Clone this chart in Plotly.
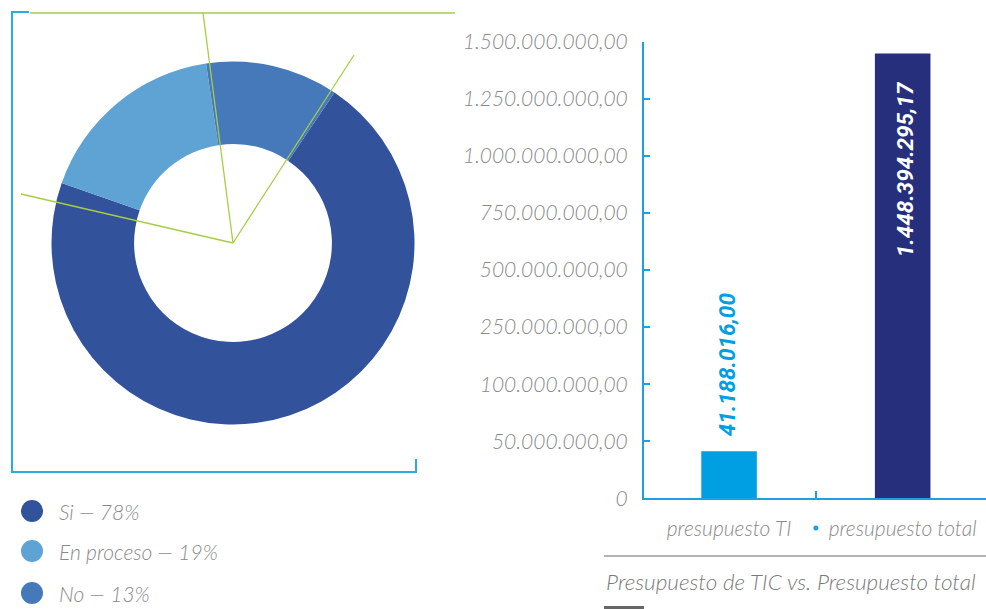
import numpy as np
import plotly.graph_objects as go

# ---------------- data ----------------
donut_labels = ["Si", "En proceso", "No"]
donut_values = [78, 19, 13]
donut_colors = ["#32529B", "#5FA3D5", "#4579B9"]

bar_categories = ["presupuesto TI", "presupuesto total"]
bar_values = [41188016.00, 1448394295.17]
bar_colors = ["#009FE3", "#262F7C"]

y_tick_values = [0, 50e6, 100e6, 250e6, 500e6, 750e6, 1000e6, 1250e6, 1500e6]
y_tick_labels = ["0", "50.000.000,00", "100.000.000,00", "250.000.000,00",
                 "500.000.000,00", "750.000.000,00", "1.000.000.000,00",
                 "1.250.000.000,00", "1.500.000.000,00"]

chart_title = "Presupuesto de TIC vs. Presupuesto total"

# ---------------- helpers ----------------
W, H = 986, 609
def px(x):
    return x / W
def py(y):
    return 1 - y / H

def es_fmt(v):
    s = f"{v:,.2f}"
    return s.replace(",", "X").replace(".", ",").replace("X", ".")

AXIS_BLUE = "#1BA0E2"
GREEN = "#A6CE45"
GRAY_TXT = "#8a8a8a"
FONT = "Lato"
BOLD_FONT = "Roboto"

# non-linear axis: map values to tick index space
tick_idx = list(range(len(y_tick_values)))
bar_idx = np.interp(bar_values, y_tick_values, tick_idx)
x_pos = list(range(len(bar_categories)))

fig = go.Figure()

# donut
fig.add_trace(go.Pie(
    labels=donut_labels, values=donut_values, hole=0.545,
    sort=False, direction="clockwise", rotation=34,
    marker=dict(colors=donut_colors, line=dict(width=0)),
    textinfo="none", hoverinfo="label+value", showlegend=False,
    domain=dict(x=[px(51.5), px(414.5)], y=[py(424.5), py(61.5)]),
))

# bars
fig.add_trace(go.Bar(
    x=x_pos, y=bar_idx, width=0.32,
    marker=dict(color=bar_colors, line=dict(width=0)),
    showlegend=False, hoverinfo="skip",
))

fig.update_layout(
    template="none",
    width=W, height=H,
    margin=dict(l=0, r=0, t=0, b=0, pad=0, autoexpand=False),
    paper_bgcolor="white", plot_bgcolor="white",
    showlegend=False,
    xaxis=dict(
        domain=[px(644), 1], range=[-0.49, 1.48], automargin=False,
        tickmode="array", tickvals=x_pos, ticktext=bar_categories,
        showgrid=False, zeroline=False, showline=True,
        linecolor=AXIS_BLUE, linewidth=2, ticks="",
        tickfont=dict(family=FONT, size=21, color=GRAY_TXT, style="italic", weight=300),
        ticklabelstandoff=10,
        minor=dict(tickmode="array", tickvals=[0.5], ticks="inside",
                   ticklen=7, tickcolor=AXIS_BLUE, tickwidth=2, showgrid=False),
        fixedrange=True,
    ),
    yaxis=dict(
        domain=[py(498.3), py(41.7)], range=[0, len(y_tick_values) - 1],
        automargin=False,
        tickmode="array", tickvals=tick_idx, ticktext=y_tick_labels,
        showgrid=False, zeroline=False, showline=True,
        linecolor=AXIS_BLUE, linewidth=2,
        ticks="inside", ticklen=6, tickcolor=AXIS_BLUE, tickwidth=2,
        tickfont=dict(family=FONT, size=21, color=GRAY_TXT, style="italic", weight=300),
        ticklabelstandoff=10,
        fixedrange=True,
    ),
)

annotations = []
# bar value labels
annotations.append(dict(
    x=x_pos[0], y=bar_idx[0], xref="x", yref="y",
    text=es_fmt(bar_values[0]), textangle=-90, showarrow=False,
    xanchor="center", yanchor="bottom", yshift=13, xshift=-2,
    font=dict(family=BOLD_FONT, size=22.5, color=bar_colors[0], style="italic", weight=700),
))
annotations.append(dict(
    x=x_pos[1], y=bar_idx[1], xref="x", yref="y",
    text=es_fmt(bar_values[1]), textangle=-90, showarrow=False,
    xanchor="center", yanchor="top", yshift=-26, xshift=3,
    font=dict(family=BOLD_FONT, size=22.5, color="white", style="italic", weight=700),
))
# chart title
annotations.append(dict(
    x=px(604), y=py(581), xref="paper", yref="paper",
    text=chart_title, showarrow=False, xanchor="left", yanchor="middle",
    font=dict(family=FONT, size=22.5, color="#7a7a7a", style="italic", weight=300),
))
# donut legend
legend_y = [511, 551, 593]
shapes = []
for lab, val, col, yy in zip(donut_labels, donut_values, donut_colors, legend_y):
    annotations.append(dict(
        x=px(57), y=py(yy), xref="paper", yref="paper",
        text=f"{lab} — {val}%", showarrow=False, xanchor="left", yanchor="middle",
        font=dict(family=FONT, size=21, color=GRAY_TXT, style="italic", weight=300),
    ))
    shapes.append(dict(type="circle", xref="paper", yref="paper",
                       x0=px(21), x1=px(43), y0=py(yy + 11), y1=py(yy - 11),
                       fillcolor=col, line=dict(width=0)))

fig.update_layout(annotations=annotations)

def line(x0, y0, x1, y1, color, width):
    return dict(type="line", xref="paper", yref="paper",
                x0=px(x0), y0=py(y0), x1=px(x1), y1=py(y1),
                line=dict(color=color, width=width), layer="above")

FRAME = "#2AACE2"
shapes += [
    line(12, 11, 12, 473, FRAME, 2),
    line(11, 12, 29, 12, FRAME, 2),
    line(11, 472, 417, 472, FRAME, 2),
    line(416, 459, 416, 473, FRAME, 2),
    line(30, 13, 455, 13, GREEN, 1.3),
    line(203, 13, 233, 243, GREEN, 1.3),
    line(233, 243, 354, 55, GREEN, 1.3),
    line(233, 243, 21, 194, GREEN, 1.3),
    line(604, 556, 986, 556, "#9a9a9a", 1.5),
    line(604, 607.5, 644, 607.5, "#666666", 3),
]
# bullet between category labels
shapes.append(dict(type="circle", xref="x", yref="paper",
                   xsizemode="pixel", ysizemode="pixel",
                   xanchor=0.5, yanchor=py(528),
                   x0=-2.5, x1=2.5, y0=-2.5, y1=2.5,
                   fillcolor=AXIS_BLUE, line=dict(width=0)))
fig.update_layout(shapes=shapes)

fig.write_html("out.html", config={"displayModeBar": False},
               post_script="document.body.style.margin='0';document.body.style.padding='0';")
